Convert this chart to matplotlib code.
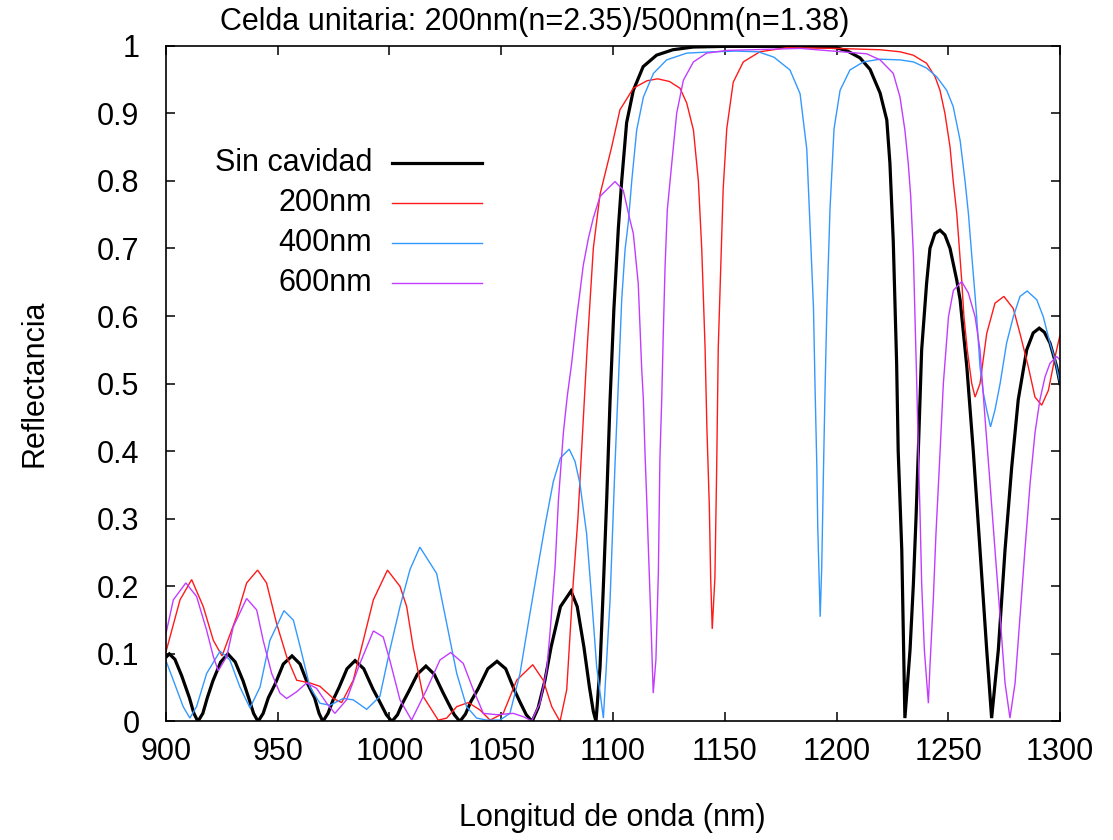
import matplotlib
matplotlib.use('Agg')
import matplotlib.pyplot as plt
from matplotlib.lines import Line2D

plt.rcParams['font.family'] = ['Liberation Sans', 'DejaVu Sans']

# espectros (longitud de onda en nm, reflectancia)
sin_nm = [900, 901.5, 904, 907, 910.5, 912.5, 914.3, 916.5, 918.5, 921, 924.5, 927.7, 931, 934.5, 937,
          939.2, 941.2, 943.5, 945.8, 948.8, 952.5, 956.4, 960, 963.5, 966.5, 968.5, 970.2, 972.5, 974.8,
          977.4, 981, 984.6, 988.5, 992.6, 995.5, 998.6, 1001.1, 1003.6, 1006, 1008.7, 1012.5, 1016.3,
          1020, 1023.9, 1026.5, 1029, 1031.5, 1034, 1036.5, 1039.6, 1044, 1048.1, 1052, 1055.7, 1058.5,
          1061.2, 1063.8, 1066.5, 1069.5, 1072.3, 1076.5, 1081.2, 1084, 1087, 1089.5, 1091.2, 1092.4,
          1094.2, 1095.7, 1097.2, 1098.7, 1100.4, 1102.4, 1103.9, 1106.1, 1109.1, 1113.5, 1119.5, 1126.8,
          1135.8, 1150, 1170, 1190, 1200.1, 1205, 1210.5, 1215, 1219.5, 1222.5, 1223.9, 1225.4, 1226.9,
          1227.6, 1229.2, 1229.9, 1230.6, 1232.9, 1234.4, 1235.6, 1236.6, 1238.1, 1240.3, 1241.8, 1244,
          1246.3, 1248.5, 1250.8, 1253.8, 1255.3, 1258.3, 1261.2, 1264.2, 1267.2, 1269.4, 1272.4, 1275.4,
          1278.4, 1281.3, 1285.1, 1288, 1290.7, 1293, 1295.5, 1298.5, 1300]
sin_r = [0.095, 0.100, 0.092, 0.068, 0.035, 0.012, 0.0, 0.012, 0.035, 0.06, 0.088, 0.100, 0.088, 0.06, 0.035,
         0.012, 0.0, 0.012, 0.035, 0.055, 0.085, 0.097, 0.085, 0.055, 0.035, 0.012, 0.0, 0.012, 0.032,
         0.05, 0.078, 0.090, 0.078, 0.048, 0.03, 0.01, 0.0, 0.01, 0.028, 0.045, 0.07, 0.082,
         0.07, 0.043, 0.026, 0.01, 0.0, 0.011, 0.03, 0.048, 0.078, 0.089, 0.078, 0.048, 0.028,
         0.01, 0.0, 0.02, 0.06, 0.11, 0.17, 0.193, 0.17, 0.11, 0.05, 0.015, 0.0,
         0.08, 0.2, 0.33, 0.476, 0.61, 0.73, 0.80, 0.886, 0.934, 0.969, 0.986, 0.994,
         0.998, 0.999, 0.999, 0.999, 0.997, 0.992, 0.982, 0.965, 0.93, 0.89, 0.826, 0.71, 0.53,
         0.40, 0.254, 0.13, 0.005, 0.106, 0.204, 0.303, 0.40, 0.55, 0.648, 0.70, 0.722,
         0.727, 0.72, 0.70, 0.653, 0.624, 0.525, 0.40, 0.254, 0.106, 0.005, 0.106, 0.254,
         0.377, 0.476, 0.55, 0.575, 0.582, 0.576, 0.56, 0.525, 0.50]

c200_nm = [900, 906.3, 911.5, 916.7, 921.2, 925.1, 931.6, 936.1, 941.0, 945.0, 949.5, 954.0, 958.5, 964.4,
           968.9, 974.9, 978.6, 983.8, 988.3, 992.8, 999.1, 1004.7, 1007.7, 1010.6, 1015.1, 1021.8, 1025.6,
           1030.1, 1035.3, 1040.5, 1045.0, 1050.9, 1056.9, 1064.1, 1068.8, 1072.6, 1076.3, 1079.3, 1082.1,
           1084.3, 1086.6, 1088.4, 1089.7, 1091.2, 1094.2, 1099.4, 1103.1, 1109.1, 1115.1, 1120.0, 1125.3,
           1130.0, 1133.0, 1136.0, 1138.2, 1139.7, 1141.2, 1142.0, 1143.1, 1143.7, 1144.4, 1145.6, 1146.4,
           1147.1, 1148.2, 1149.3, 1150.9, 1153.8, 1158.3, 1165.7, 1177.7, 1200, 1219.5, 1228.4, 1234.3,
           1240.3, 1244.1, 1246.3, 1248.5, 1250.8, 1252.2, 1253.8, 1254.9, 1256.0, 1257.0, 1258.5, 1260.5,
           1262.0, 1264.2, 1267.2, 1270.9, 1274.9, 1279.1, 1282.1, 1285.8, 1288.8, 1291.8, 1294.8, 1297.8,
           1300]
c200_r = [0.103, 0.18, 0.21, 0.17, 0.12, 0.097, 0.155, 0.205, 0.224, 0.205, 0.145, 0.096, 0.061, 0.057,
          0.052, 0.034, 0.028, 0.061, 0.12, 0.18, 0.224, 0.20, 0.17, 0.11, 0.037, 0.002, 0.005,
          0.022, 0.028, 0.017, 0.002, 0.012, 0.061, 0.084, 0.061, 0.022, 0.0, 0.047, 0.20,
          0.30, 0.44, 0.55, 0.62, 0.70, 0.78, 0.85, 0.905, 0.937, 0.948, 0.951, 0.947,
          0.937, 0.915, 0.875, 0.80, 0.70, 0.553, 0.436, 0.319, 0.213, 0.137, 0.213, 0.377,
          0.553, 0.671, 0.788, 0.877, 0.946, 0.976, 0.991, 0.997, 0.996, 0.994, 0.991, 0.986,
          0.974, 0.954, 0.934, 0.90, 0.85, 0.80, 0.752, 0.703, 0.653, 0.60, 0.55, 0.50,
          0.48, 0.50, 0.574, 0.619, 0.629, 0.611, 0.574, 0.525, 0.48, 0.468, 0.49, 0.54,
          0.572]

c400_nm = [900, 903.3, 907.7, 910.7, 913.7, 918.2, 924.2, 928.6, 933.1, 937.6, 942.1, 946.5, 952.8, 957.0,
           960.0, 964.4, 968.9, 973.4, 979.3, 983.8, 989.8, 995.7, 1000.2, 1004.7, 1009.2, 1013.6, 1021.1,
           1025.6, 1030.1, 1034.5, 1039.0, 1043.5, 1049.4, 1053.9, 1058.4, 1062.1, 1065.9, 1069.6, 1073.3,
           1076.5, 1080.4, 1083.0, 1085.2, 1088.2, 1090.5, 1092.7, 1095.7, 1098.7, 1100.9, 1102.4, 1103.9,
           1105.4, 1106.9, 1108.4, 1110.6, 1113.6, 1118.1, 1124.0, 1133.0, 1144.9, 1155.0, 1165.0, 1172.0,
           1179.2, 1183.7,
           1186.7, 1188.2, 1189.7, 1190.4, 1191.2, 1191.6, 1192.7, 1193.4, 1194.2, 1194.9, 1195.7, 1197.1,
           1198.9, 1201.6, 1206.0, 1212.0, 1219.5, 1228.4, 1234.4, 1240.3, 1244.8, 1249.3, 1252.2, 1255.3,
           1257.5, 1259.0, 1260.5, 1262.0, 1262.7, 1264.2, 1265.7, 1267.2, 1268.9, 1270.9, 1273.2, 1276.1,
           1279.1, 1282.1, 1285.3, 1289.6, 1292.5, 1295.5, 1297.8, 1300]
c400_r = [0.09, 0.061, 0.022, 0.005, 0.022, 0.071, 0.104, 0.091, 0.051, 0.02, 0.051, 0.12, 0.164, 0.15,
          0.111, 0.051, 0.027, 0.024, 0.034, 0.032, 0.018, 0.037, 0.106, 0.17, 0.225, 0.258, 0.219,
          0.145, 0.071, 0.022, 0.005, 0.002, 0.002, 0.012, 0.071, 0.145, 0.219, 0.29, 0.355,
          0.39, 0.403, 0.385, 0.352, 0.278, 0.18, 0.081, 0.005, 0.18, 0.38, 0.50, 0.624,
          0.698, 0.74, 0.80, 0.875, 0.924, 0.959, 0.979, 0.989, 0.991, 0.992, 0.991, 0.983,
          0.964, 0.929,
          0.847, 0.73, 0.612, 0.495, 0.377, 0.289, 0.155, 0.23, 0.377, 0.495, 0.612, 0.759,
          0.877, 0.934, 0.964, 0.976, 0.98, 0.979, 0.976, 0.967, 0.954, 0.934, 0.91, 0.86,
          0.80, 0.752, 0.69, 0.63, 0.599, 0.525, 0.486, 0.461, 0.436, 0.461, 0.50, 0.56,
          0.599, 0.629, 0.637, 0.624, 0.599, 0.56, 0.535, 0.50]

c600_nm = [900, 903.3, 908.9, 913.7, 918.2, 921.2, 923.4, 927.2, 930.1, 936.1, 940.6, 943.5, 947.3, 951.0,
           954.0, 958.5, 962.9, 967.4, 971.9, 975.6, 980.8, 986.8, 992.8, 997.2, 1000.2, 1004.7, 1009.9,
           1016.6, 1022.6, 1027.4, 1033.0, 1037.5, 1042.0, 1048.0, 1055.4, 1059.9, 1063.6, 1067.3, 1070.3,
           1071.8, 1074.1, 1075.6, 1077.8, 1079.5, 1081.5, 1083.8, 1085.2, 1086.7, 1089.0, 1091.2, 1094.2,
           1100.9, 1104.6, 1107.6, 1109.1, 1111.3, 1112.1, 1112.8, 1113.6, 1114.3, 1115.1, 1115.8, 1116.9,
           1118.0, 1119.2, 1120.3, 1121.0, 1121.8, 1122.5, 1123.3, 1124.3, 1126.3, 1128.5, 1131.5, 1136.0,
           1141.9, 1150.9, 1183.7, 1213.5, 1219.5, 1225.4, 1228.4, 1230.6, 1232.1, 1233.2, 1233.9, 1234.4,
           1235.1, 1235.9, 1236.6, 1237.4, 1238.1, 1239.3, 1241.1, 1241.8, 1243.3, 1244.5, 1246.0, 1247.8,
           1250.1, 1252.3, 1256.0, 1259.0, 1262.0, 1264.2, 1266.4, 1268.7, 1270.9, 1273.2, 1275.4, 1277.6,
           1279.9, 1282.1, 1284.3, 1286.6, 1288.8, 1291.0, 1293.3, 1295.5, 1298.5, 1300]
c600_r = [0.13, 0.18, 0.205, 0.185, 0.135, 0.096, 0.075, 0.096, 0.14, 0.182, 0.165, 0.12, 0.071, 0.042,
          0.034, 0.044, 0.057, 0.049, 0.027, 0.012, 0.032, 0.086, 0.134, 0.125, 0.09, 0.032, 0.002,
          0.047, 0.091, 0.102, 0.086, 0.047, 0.012, 0.01, 0.012, 0.007, 0.001, 0.027, 0.075,
          0.13, 0.229, 0.328, 0.427, 0.48, 0.53, 0.599, 0.635, 0.675, 0.715, 0.745, 0.777,
          0.799, 0.786, 0.742, 0.722, 0.648, 0.583, 0.525, 0.476, 0.40, 0.328, 0.26, 0.155,
          0.042, 0.091, 0.22, 0.39, 0.476, 0.574, 0.673, 0.757, 0.826, 0.90, 0.949, 0.976,
          0.989, 0.993, 0.996, 0.988, 0.979, 0.959, 0.924, 0.875, 0.826, 0.777, 0.727, 0.69,
          0.60, 0.50, 0.40, 0.303, 0.204, 0.106, 0.027, 0.081, 0.18, 0.278, 0.377, 0.50,
          0.599, 0.638, 0.651, 0.634, 0.599, 0.55, 0.451, 0.352, 0.254, 0.155, 0.057, 0.005,
          0.057, 0.155, 0.254, 0.352, 0.427, 0.476, 0.51, 0.53, 0.54, 0.535]

etiquetas = ['Sin cavidad', '200nm', '400nm', '600nm']
colores = ['black', '#ff1a1a', '#3399ff', '#c23cff']
anchos = [2.3, 1.0, 1.0, 1.0]
xticks = [900, 950, 1000, 1050, 1100, 1150, 1200, 1250, 1300]
yticks = [0, 0.1, 0.2, 0.3, 0.4, 0.5, 0.6, 0.7, 0.8, 0.9, 1]
ylabels = ['0', '0.1', '0.2', '0.3', '0.4', '0.5', '0.6', '0.7', '0.8', '0.9', '1']

fs = 22

fig = plt.figure(figsize=(11.13, 8.4), dpi=100)
ax = fig.add_axes([0.1491, 0.1411, 0.8033, 0.8045])

series = [(sin_nm, sin_r), (c200_nm, c200_r), (c400_nm, c400_r), (c600_nm, c600_r)]
for (x, y), c, lw in zip(series, colores, anchos):
    ax.plot(x, y, color=c, lw=lw, solid_joinstyle='miter')

ax.set_xlim(900, 1300)
ax.set_ylim(0, 1)
ax.set_xticks(xticks)
ax.set_yticks(yticks)
ax.set_yticklabels(ylabels)
ax.tick_params(direction='in', top=True, right=True, length=6.5, width=1.1, labelsize=fs)
ax.tick_params(axis='x', pad=11)
ax.tick_params(axis='y', pad=19)
for s in ax.spines.values():
    s.set_linewidth(1.2)

# leyenda a mano, texto a la derecha, linea despues
ys = [0.8264, 0.7672, 0.7080, 0.6489]
for lab, c, lw, yy in zip(etiquetas, colores, anchos, ys):
    ax.text(0.2304, yy, lab, transform=ax.transAxes, ha='right', va='center', fontsize=fs)
    ax.add_line(Line2D([0.2528, 0.3535], [yy, yy], transform=ax.transAxes, color=c, lw=lw))

fig.text(535 / 1113, 1 - 22 / 840, 'Celda unitaria: 200nm(n=2.35)/500nm(n=1.38)',
         ha='center', va='center', fontsize=fs)
fig.text(35 / 1113, 1 - 383 / 840, 'Reflectancia', rotation=90, ha='center', va='center', fontsize=fs)
fig.text(612 / 1113, 1 - 818 / 840, 'Longitud de onda (nm)', ha='center', va='center', fontsize=fs)

fig.savefig('out.png', dpi=100)
